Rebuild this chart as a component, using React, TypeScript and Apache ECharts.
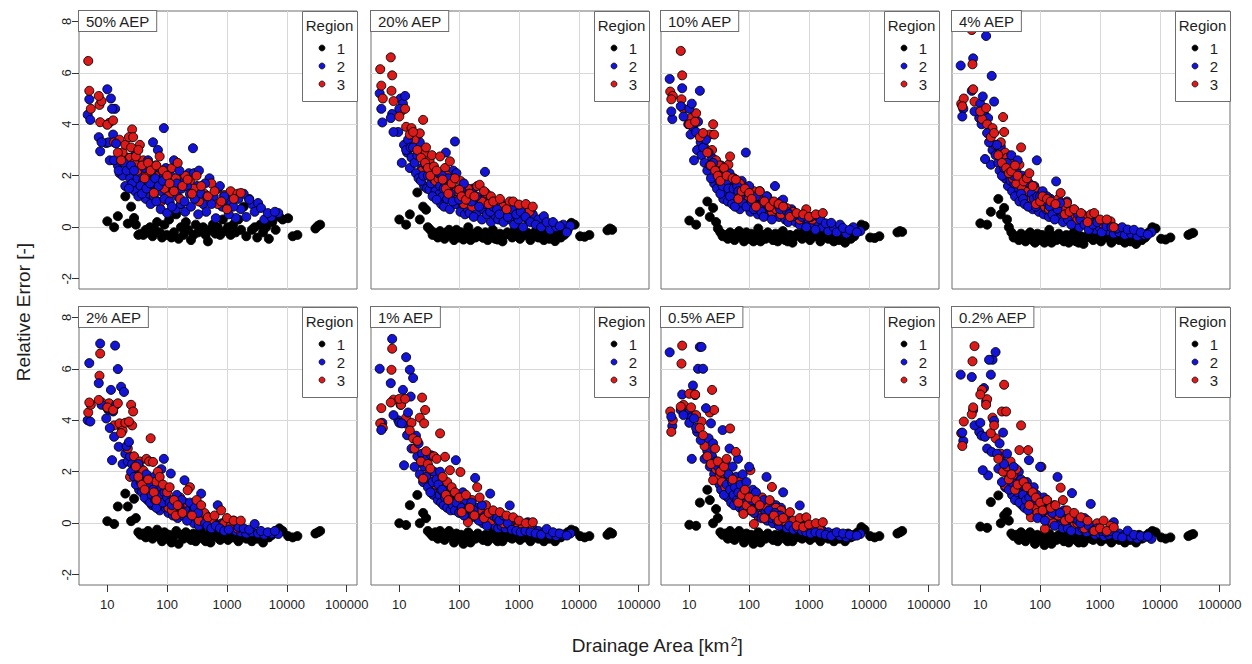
import { useEffect, useRef } from "react";
import * as echarts from "echarts";

const PANEL_TITLES = ["50% AEP", "20% AEP", "10% AEP", "4% AEP", "2% AEP", "1% AEP", "0.5% AEP", "0.2% AEP"];
const REGION_NAMES = ["1", "2", "3"];
const REGION_COLORS = ["#000000", "#1414d8", "#dc1a1a"];
const X_TICKS = [10, 100, 1000, 10000, 100000];
const Y_TICKS = [-2, 0, 2, 4, 6, 8];
const X_TITLE = "Drainage Area [km{s|2}]";
const Y_TITLE = "Relative Error [-]";

// Drainage areas [km2] of the gauges of each region (same in every panel)
const AREA_R1 = [10,13,15,20,22,25,28,30,33,36,40,44,48,52,57,62,68,75,82,90,98,108,118,130,142,155,170,188,205,225,250,275,300,330,365,400,440,480,530,580,640,700,770,850,940,1040,1150,1270,1400,1550,1720,1900,2100,2350,2600,2900,3200,3600,4000,4500,5000,5700,6500,7500,8500,10500,12500,15000,30000,33000,36000];
const AREA_R2 = [4.7,5,5.2,7.2,7.6,8,9.6,10,10.5,11,11.5,12,12.5,13,13.5,14,15,15.5,16,17,18,19,20,21,22,23,24,25,26,28,29,30,32,33,34,36,37,38,40,42,44,45,47,48,50,52,53,55,56,58,60,63,65,66,70,72,75,78,80,85,88,90,95,100,105,110,115,120,125,130,140,145,150,160,170,175,185,195,200,215,230,240,250,270,280,290,315,330,340,370,400,430,450,470,510,550,600,650,700,760,830,900,980,1070,1170,1280,1400,1550,1700,1900,2100,2350,2600,2900,3300,3700,4200,4800,5500,6300,7200];
const AREA_R3 = [4.8,5,5.3,7.2,7.4,7.6,8,10,10.7,12.5,13,15,16,17,18,20,22,23,24,25,26,27,28,30,32,33,35,38,40,42,45,48,50,53,58,60,63,66,70,75,80,85,90,100,105,110,120,130,140,150,165,180,200,220,240,260,280,310,340,370,420,480,550,620,700,800,900,1000,1150,1300,1500,1700];

// Relative error, region 1 (black)
const ERR_R1_P50 = [0.23,0.0,0.43,1.2,0.14,0.8,0.36,0.1,-0.3,-0.25,-0.3,-0.1,-0.2,0.0,-0.35,-0.1,0.2,-0.2,-0.4,0.1,-0.3,0.3,-0.4,-0.2,0.5,-0.45,0.0,-0.3,0.2,-0.1,-0.5,-0.3,0.1,-0.2,-0.1,0.0,-0.3,-0.55,-0.1,0.1,-0.25,0.0,-0.3,0.3,-0.15,0.0,-0.3,0.1,-0.2,0.3,-0.1,0.8,-0.35,1.1,-0.1,0.0,-0.4,0.1,-0.2,0.0,-0.45,0.2,-0.1,0.4,0.3,0.35,-0.35,-0.3,-0.05,0.05,0.1];
const ERR_R1_P20 = [0.3,0.1,0.5,1.35,0.3,0.8,0.68,0.0,-0.1,-0.3,-0.22,-0.4,-0.15,-0.3,-0.45,-0.2,-0.1,-0.35,-0.5,-0.1,-0.4,-0.2,-0.48,-0.3,0.0,-0.5,-0.25,-0.4,-0.15,-0.35,-0.41,-0.2,-0.5,-0.3,-0.1,-0.45,-0.48,-0.25,-0.55,-0.3,-0.2,-0.28,-0.4,-0.1,-0.35,-0.45,-0.2,-0.3,-0.22,-0.5,-0.35,-0.15,-0.4,-0.3,-0.5,-0.25,-0.45,-0.35,-0.54,-0.2,-0.4,-0.3,-0.1,0.17,0.1,-0.35,-0.37,-0.3,-0.12,-0.05,-0.1];
const ERR_R1_P10 = [0.26,0.1,0.6,1.0,0.4,0.75,0.2,-0.05,-0.2,-0.35,-0.3,-0.45,-0.2,-0.35,-0.5,-0.25,-0.15,-0.4,-0.55,-0.2,-0.45,-0.25,-0.55,-0.35,-0.05,-0.55,-0.3,-0.45,-0.2,-0.4,-0.5,-0.25,-0.55,-0.35,-0.15,-0.5,-0.55,-0.3,-0.6,-0.35,-0.25,-0.35,-0.45,-0.15,-0.4,-0.5,-0.25,-0.35,-0.3,-0.55,-0.4,-0.2,-0.45,-0.35,-0.55,-0.3,-0.5,-0.4,-0.6,-0.25,-0.45,-0.35,-0.15,0.1,0.05,-0.4,-0.42,-0.35,-0.2,-0.15,-0.18];
const ERR_R1_P4 = [0.15,0.1,0.6,1.1,0.5,0.75,0.3,0.0,-0.2,-0.4,-0.35,-0.5,-0.25,-0.45,-0.55,-0.3,-0.2,-0.5,-0.6,-0.25,-0.5,-0.3,-0.6,-0.4,-0.1,-0.6,-0.35,-0.5,-0.25,-0.45,-0.55,-0.3,-0.6,-0.4,-0.2,-0.55,-0.6,-0.35,-0.65,-0.4,-0.3,-0.4,-0.5,-0.2,-0.45,-0.55,-0.3,-0.4,-0.35,-0.6,-0.45,-0.25,-0.5,-0.4,-0.6,-0.35,-0.55,-0.45,-0.65,-0.3,-0.5,-0.4,-0.2,0.0,-0.05,-0.45,-0.48,-0.4,-0.3,-0.25,-0.22];
const ERR_R1_P2 = [0.08,-0.03,0.65,1.15,0.65,0.08,0.95,0.2,-0.35,-0.45,-0.4,-0.55,-0.3,-0.5,-0.6,-0.4,-0.25,-0.55,-0.7,-0.35,-0.6,-0.45,-0.75,-0.5,-0.3,-0.8,-0.45,-0.6,-0.35,-0.5,-0.65,-0.4,-0.7,-0.5,-0.3,-0.6,-0.7,-0.45,-0.75,-0.5,-0.4,-0.55,-0.65,-0.35,-0.5,-0.65,-0.4,-0.55,-0.45,-0.7,-0.55,-0.35,-0.6,-0.5,-0.7,-0.45,-0.6,-0.5,-0.75,-0.4,-0.55,-0.45,-0.3,-0.2,-0.3,-0.5,-0.55,-0.5,-0.4,-0.35,-0.3];
const ERR_R1_P1 = [0.0,-0.07,0.7,1.1,0.0,0.4,0.2,-0.3,-0.4,-0.5,-0.35,-0.6,-0.3,-0.5,-0.65,-0.4,-0.3,-0.55,-0.75,-0.4,-0.6,-0.45,-0.8,-0.5,-0.35,-0.75,-0.5,-0.6,-0.4,-0.55,-0.65,-0.45,-0.7,-0.5,-0.35,-0.6,-0.7,-0.45,-0.7,-0.55,-0.4,-0.55,-0.6,-0.35,-0.5,-0.65,-0.45,-0.55,-0.45,-0.7,-0.55,-0.4,-0.6,-0.5,-0.7,-0.45,-0.6,-0.5,-0.7,-0.4,-0.55,-0.45,-0.35,-0.25,-0.3,-0.5,-0.55,-0.5,-0.45,-0.35,-0.4];
const ERR_R1_P05 = [-0.06,-0.1,0.8,1.3,0.9,0.0,0.55,0.2,-0.35,-0.45,-0.4,-0.6,-0.3,-0.55,-0.65,-0.4,-0.3,-0.55,-0.75,-0.4,-0.6,-0.45,-0.8,-0.5,-0.35,-0.75,-0.5,-0.6,-0.4,-0.55,-0.65,-0.45,-0.7,-0.5,-0.35,-0.6,-0.7,-0.45,-0.7,-0.55,-0.4,-0.55,-0.6,-0.35,-0.5,-0.65,-0.45,-0.55,-0.45,-0.7,-0.55,-0.4,-0.6,-0.5,-0.7,-0.45,-0.6,-0.5,-0.7,-0.4,-0.55,-0.45,-0.35,-0.15,-0.25,-0.5,-0.55,-0.5,-0.4,-0.35,-0.3];
const ERR_R1_P02 = [-0.13,-0.18,0.82,1.08,0.0,0.3,0.43,0.1,-0.4,-0.5,-0.45,-0.65,-0.35,-0.6,-0.7,-0.45,-0.35,-0.6,-0.8,-0.45,-0.65,-0.5,-0.85,-0.55,-0.4,-0.8,-0.55,-0.65,-0.45,-0.6,-0.7,-0.5,-0.75,-0.55,-0.4,-0.65,-0.75,-0.5,-0.75,-0.6,-0.45,-0.6,-0.65,-0.4,-0.55,-0.7,-0.5,-0.6,-0.5,-0.75,-0.6,-0.45,-0.65,-0.55,-0.75,-0.5,-0.65,-0.55,-0.75,-0.45,-0.6,-0.5,-0.4,-0.3,-0.35,-0.55,-0.6,-0.55,-0.5,-0.45,-0.42];

// Relative error, region 2 (blue)
const ERR_R2_P50 = [4.37,4.97,4.17,3.5,2.95,3.3,3.27,5.36,3.3,2.6,5.0,4.6,3.6,2.6,4.6,3.25,2.4,2.2,2.1,2.6,2.0,2.5,1.6,2.2,2.7,1.5,1.9,2.4,1.7,2.2,1.4,2.9,1.9,1.2,2.5,1.6,2.1,1.3,1.8,2.3,1.1,1.5,2.0,2.6,1.3,1.7,0.9,2.2,1.5,3.3,1.2,1.9,2.4,1.0,3.0,1.6,2.1,0.7,1.4,1.8,3.85,1.1,2.3,0.55,1.6,1.0,2.0,0.8,1.4,2.6,0.7,1.7,1.2,2.2,0.9,1.5,1.9,1.0,0.6,1.6,2.1,1.3,0.8,3.07,2.1,1.1,1.6,0.5,2.2,1.3,0.9,1.7,0.6,1.2,1.9,0.9,1.2,0.35,1.5,1.6,0.8,1.2,1.07,0.5,0.9,0.8,0.36,1.1,0.7,1.3,0.4,1.07,0.9,0.6,0.94,0.75,0.3,0.55,0.4,0.6,0.55];
const ERR_R2_P20 = [5.2,4.6,4.07,4.24,4.4,3.7,3.7,4.6,5.0,2.5,4.8,3.2,5.1,3.0,2.9,3.4,2.3,3.1,2.7,3.1,2.5,2.1,2.8,1.9,3.3,1.8,2.3,2.0,1.6,2.4,1.5,2.0,1.46,2.2,1.7,1.2,1.9,2.3,1.4,1.07,1.8,2.1,1.3,1.6,0.9,2.0,1.2,1.5,0.8,1.7,2.9,1.1,1.4,1.9,0.7,1.3,1.6,1.0,2.2,3.33,0.9,2.1,1.2,1.07,0.6,1.4,0.9,1.7,0.5,1.1,0.7,1.3,0.55,1.0,1.5,0.4,0.9,1.2,0.6,0.8,1.1,0.3,0.7,2.15,0.9,0.5,1.0,0.6,0.2,0.8,0.45,0.7,0.3,0.5,0.9,0.2,0.6,0.4,0.3,0.7,0.1,0.5,0.3,0.6,0.0,0.4,0.3,0.2,0.5,0.1,0.3,0.0,0.43,0.2,-0.1,0.2,0.0,0.04,0.1,-0.2,0.05];
const ERR_R2_P10 = [5.76,4.5,4.2,4.7,5.4,4.3,4.0,4.6,3.6,4.8,3.9,2.6,4.4,3.7,3.0,4.1,5.3,3.3,2.8,3.1,2.5,3.4,2.2,2.9,2.4,1.9,2.7,2.5,1.7,2.2,1.5,2.0,1.8,1.3,2.4,1.6,1.1,2.0,1.4,1.8,1.0,1.5,2.1,1.2,1.7,0.9,1.2,1.5,1.9,0.8,1.3,1.6,1.0,1.4,0.7,1.2,1.8,0.94,1.1,1.4,2.9,0.8,1.2,1.6,0.6,1.0,1.3,0.7,0.9,1.2,0.5,0.8,1.4,0.6,1.07,0.4,0.9,1.2,0.5,0.8,1.0,0.3,0.7,1.6,0.5,0.9,0.4,0.7,1.0,1.07,0.3,0.6,0.2,0.5,0.7,0.43,0.2,0.5,0.1,0.4,0.3,0.0,0.23,0.4,0.1,-0.1,0.2,0.3,0.0,0.15,-0.15,0.17,0.0,-0.2,0.1,-0.03,-0.25,-0.1,0.0,-0.2,-0.15];
const ERR_R2_P4 = [6.28,4.3,4.6,5.3,6.56,4.5,4.24,4.8,4.0,5.08,4.4,2.65,7.43,3.66,4.24,3.3,2.43,5.88,3.0,4.88,2.8,3.2,2.5,2.2,3.14,2.0,2.6,2.3,1.9,2.5,1.6,2.1,1.8,2.8,1.4,2.0,1.7,1.2,2.2,2.6,1.5,1.0,1.8,1.3,2.0,1.1,1.6,0.9,1.4,1.9,1.2,0.8,1.5,1.7,1.0,1.3,0.7,1.1,1.6,0.8,2.6,1.2,0.6,1.2,0.9,1.4,0.5,1.0,0.7,1.2,0.4,0.8,1.1,0.5,0.9,0.3,1.78,0.7,0.4,0.94,0.6,0.2,0.8,0.5,1.0,0.3,0.6,0.1,0.4,0.68,0.2,0.5,0.0,0.3,0.5,0.1,0.3,-0.1,0.3,0.1,-0.1,0.2,0.0,-0.2,0.1,0.04,-0.15,0.0,-0.25,-0.05,-0.2,0.0,-0.3,-0.09,-0.25,-0.1,-0.35,-0.2,-0.3,-0.28,-0.2];
const ERR_R2_P2 = [4.0,6.22,3.95,5.44,6.98,4.6,4.07,4.47,4.4,3.7,5.18,2.45,4.34,3.36,6.9,4.6,5.99,2.97,3.8,5.3,2.3,5.1,2.7,3.0,2.4,3.16,2.6,2.0,2.3,1.8,2.19,1.5,1.9,2.3,1.3,1.6,2.1,1.2,1.7,1.0,1.4,1.9,0.9,1.5,1.2,0.8,1.6,1.1,0.7,1.3,1.8,0.9,1.2,0.6,1.4,1.0,0.5,1.1,2.1,0.8,2.5,1.2,0.6,1.0,0.4,0.8,1.93,0.7,0.3,0.9,0.5,1.1,0.2,0.7,0.4,0.9,0.3,1.67,0.6,0.1,0.5,0.8,0.2,0.4,0.0,0.6,0.2,0.4,-0.1,1.15,0.2,0.0,0.3,-0.1,0.2,-0.2,0.1,-0.1,0.7,-0.2,0.0,-0.3,-0.1,-0.25,0.0,0.1,-0.3,-0.15,-0.35,-0.2,-0.4,-0.25,-0.35,-0.03,-0.4,-0.3,-0.45,-0.35,-0.4,-0.3,-0.42];
const ERR_R2_P1 = [6.0,3.62,3.9,5.44,7.16,4.2,4.0,3.9,4.6,3.88,5.18,2.25,3.88,6.45,3.42,4.3,5.96,4.92,2.9,5.64,2.19,3.4,2.6,3.1,1.9,2.4,2.7,1.6,2.2,1.8,2.5,1.4,1.9,1.2,2.64,1.6,1.1,2.0,1.3,1.7,0.9,1.5,1.1,2.0,0.8,1.3,1.6,0.7,1.2,1.0,1.5,0.6,1.1,0.9,1.4,0.5,1.0,0.7,1.2,0.5,2.45,0.8,1.1,0.4,0.9,0.6,1.2,0.3,0.7,0.9,0.4,0.6,0.2,0.8,0.3,0.5,1.76,0.2,0.6,0.1,0.4,0.7,0.0,0.3,0.5,-0.1,0.2,1.15,0.0,0.3,-0.1,0.2,-0.2,0.1,-0.1,0.3,-0.2,0.0,0.69,-0.25,-0.05,-0.3,-0.1,-0.35,-0.15,-0.3,0.04,-0.35,-0.2,-0.4,-0.3,-0.45,-0.35,-0.22,-0.45,-0.35,-0.5,-0.4,-0.45,-0.48,-0.4];
const ERR_R2_P05 = [6.64,4.14,3.78,4.4,5.0,4.2,4.27,3.9,4.1,2.5,5.35,4.07,4.98,3.7,3.55,6.0,6.85,3.23,6.85,6.0,2.5,4.47,2.8,3.3,2.2,3.88,2.6,3.1,1.9,2.4,1.7,2.2,1.5,2.0,1.3,3.62,1.8,1.1,2.3,1.5,1.0,1.9,2.9,1.3,0.8,1.6,2.2,1.1,0.7,1.4,1.8,0.9,2.5,1.2,0.6,1.5,1.0,1.9,0.5,1.3,0.8,1.6,1.1,2.19,0.5,0.9,1.3,0.4,0.8,1.2,0.3,0.7,1.0,0.2,0.6,0.9,0.4,1.8,0.1,0.5,0.8,0.2,0.0,0.4,0.7,0.1,-0.1,0.3,0.6,1.2,0.0,-0.2,0.2,-0.1,0.1,-0.25,0.0,-0.2,0.69,-0.3,-0.1,-0.35,-0.2,-0.4,-0.25,-0.35,-0.09,-0.4,-0.3,-0.45,-0.35,-0.5,-0.4,-0.35,-0.5,-0.4,-0.55,-0.45,-0.5,-0.48,-0.42];
const ERR_R2_P02 = [5.77,3.52,3.2,5.68,4.4,3.8,3.55,3.9,3.4,2.06,5.25,3.36,4.73,2.9,1.86,6.35,5.77,2.77,6.35,3.98,6.65,2.7,2.12,3.1,2.5,1.6,3.52,2.3,1.4,2.7,1.9,1.3,2.2,1.6,1.1,2.19,1.5,0.9,1.8,1.2,2.0,0.8,1.4,1.7,0.7,1.1,1.5,0.6,1.3,0.9,1.6,0.5,2.45,1.0,0.4,1.2,0.8,1.4,0.3,0.9,1.1,0.2,0.7,2.19,0.4,0.8,1.0,0.1,0.5,0.9,0.2,0.6,0.0,0.4,0.7,-0.1,0.3,1.8,0.0,0.4,0.2,-0.2,0.5,0.0,0.3,-0.2,0.1,-0.3,1.17,0.2,-0.1,0.1,-0.3,0.0,-0.2,0.2,-0.35,-0.1,0.75,-0.3,-0.45,-0.2,-0.4,-0.3,-0.5,-0.35,-0.45,-0.3,0.04,-0.5,-0.4,-0.55,-0.45,-0.29,-0.55,-0.45,-0.6,-0.5,-0.55,-0.5,-0.61];

// Relative error, region 3 (red)
const ERR_R3_P50 = [6.46,5.3,4.6,5.1,4.75,4.08,4.9,3.98,4.05,4.15,3.3,2.9,3.4,2.6,2.9,3.2,2.3,3.5,2.7,3.1,3.8,3.5,2.5,2.75,2.2,3.0,3.2,2.4,2.6,1.9,2.1,2.5,1.7,2.2,1.8,1.33,2.0,2.4,1.6,2.75,1.0,2.2,1.5,2.0,1.2,1.7,2.3,1.4,1.9,2.5,1.1,1.6,2.0,1.85,1.8,1.3,1.5,2.0,1.0,1.6,1.3,1.2,1.7,1.4,0.9,1.0,1.25,0.7,1.4,1.1,1.3,1.33];
const ERR_R3_P20 = [6.14,5.5,5.0,6.6,5.3,5.9,4.9,4.3,4.5,4.6,3.9,3.6,3.85,3.7,3.4,3.0,3.65,2.7,2.2,4.17,2.9,2.5,3.1,2.3,2.6,2.0,2.8,2.36,1.8,2.2,1.9,2.75,1.6,1.85,2.3,1.5,2.0,1.3,2.56,1.7,1.1,1.9,1.4,1.46,1.8,1.2,0.9,1.07,1.5,1.3,0.8,1.2,1.6,1.65,1.0,1.4,1.33,0.9,1.2,1.0,0.94,1.1,0.8,0.7,1.0,1.0,0.6,0.88,0.7,0.9,0.6,0.8];
const ERR_R3_P10 = [5.27,4.97,5.1,6.85,4.97,5.9,4.6,4.0,4.24,4.1,4.43,3.5,3.3,3.66,3.1,2.9,3.6,2.4,3.0,4.0,3.6,2.2,2.6,2.0,2.4,1.8,2.1,2.3,1.7,2.0,2.43,2.75,1.5,1.9,1.3,1.85,1.6,1.1,1.7,1.4,1.0,1.5,1.2,1.33,0.9,1.1,1.4,0.8,1.2,1.4,0.7,1.0,1.2,0.8,0.6,1.0,0.7,0.9,0.5,0.8,0.75,0.4,0.6,0.55,0.3,0.5,0.7,0.4,0.3,0.5,0.35,0.55];
const ERR_R3_P4 = [4.8,4.7,5.0,7.66,6.33,5.36,4.88,4.5,4.2,4.63,4.0,3.5,3.85,3.66,3.2,2.8,3.3,2.5,4.28,3.7,2.9,2.3,2.7,2.1,2.5,2.17,1.9,2.4,1.7,2.0,2.43,3.1,1.5,1.78,1.3,1.9,1.4,2.1,1.1,1.6,1.3,0.9,1.4,1.0,1.3,1.2,0.8,1.1,0.7,1.0,0.6,0.9,1.1,1.33,0.7,0.5,0.94,0.6,0.4,0.7,0.3,0.55,0.4,0.2,0.5,0.55,0.2,0.3,0.1,0.3,0.23,0.0];
const ERR_R3_P2 = [4.3,4.69,4.6,4.79,5.73,6.59,4.7,4.5,4.66,4.4,3.8,4.66,3.88,3.5,3.6,3.9,2.9,3.95,1.8,4.6,3.8,4.34,2.6,2.2,1.6,1.8,2.4,1.5,2.05,1.3,2.5,1.7,2.4,3.3,2.38,1.2,1.6,0.9,2.0,1.8,1.1,1.5,0.8,1.2,0.6,1.4,0.5,0.9,0.3,0.7,1.0,0.4,0.8,1.28,1.4,0.3,0.6,0.9,0.1,0.7,0.4,0.23,0.1,0.3,-0.1,0.5,0.0,0.2,-0.1,0.1,-0.2,0.1];
const ERR_R3_P1 = [3.88,4.47,3.7,4.69,5.96,6.78,4.8,4.83,4.6,4.83,4.1,3.6,3.9,3.3,2.9,3.2,4.1,2.4,4.88,1.73,3.88,4.4,2.8,2.3,2.0,2.12,1.7,2.6,1.5,2.5,1.9,3.49,1.3,1.8,2.58,1.1,1.6,0.9,2.06,1.4,0.8,1.2,0.6,1.0,1.99,0.43,0.8,1.1,0.04,0.6,0.9,0.3,1.4,1.0,0.5,0.2,0.7,0.4,0.1,0.5,0.2,0.43,0.0,0.3,-0.1,0.23,-0.2,0.1,-0.15,0.0,-0.25,0.04];
const ERR_R3_P05 = [4.34,3.55,4.0,4.53,6.2,6.9,4.6,5.03,4.5,5.0,4.2,3.7,3.95,3.42,3.0,2.6,4.3,2.3,5.18,1.67,4.4,2.9,2.1,2.4,1.8,2.0,1.6,2.2,1.4,2.5,1.9,3.68,1.2,1.7,1.0,2.77,1.4,0.8,1.6,1.1,0.36,1.3,0.7,1.0,2.06,0.5,-0.03,0.9,0.3,0.7,1.0,0.2,0.6,0.9,1.41,0.3,0.6,0.1,0.5,0.2,0.0,0.43,0.1,-0.1,0.2,-0.15,0.23,-0.05,-0.2,0.0,-0.25,0.04];
const ERR_R3_P02 = [3.5,3.0,3.95,4.23,6.29,4.5,6.88,5.0,5.18,4.6,4.82,3.5,4.1,3.8,3.3,2.5,2.7,4.34,2.0,5.38,1.47,4.34,2.2,1.7,2.4,1.9,1.86,1.3,2.1,1.5,2.84,3.8,1.1,1.6,0.9,1.4,2.84,0.7,0.23,1.2,0.6,1.0,0.4,0.8,2.19,0.5,-0.22,0.9,0.2,0.6,0.0,0.7,0.3,1.38,0.9,0.1,0.5,0.2,-0.1,0.4,0.0,0.23,-0.2,0.1,-0.1,-0.3,0.0,-0.2,0.1,-0.3,-0.1,-0.16];

const ERR_R1 = [ERR_R1_P50, ERR_R1_P20, ERR_R1_P10, ERR_R1_P4, ERR_R1_P2, ERR_R1_P1, ERR_R1_P05, ERR_R1_P02];
const ERR_R2 = [ERR_R2_P50, ERR_R2_P20, ERR_R2_P10, ERR_R2_P4, ERR_R2_P2, ERR_R2_P1, ERR_R2_P05, ERR_R2_P02];
const ERR_R3 = [ERR_R3_P50, ERR_R3_P20, ERR_R3_P10, ERR_R3_P4, ERR_R3_P2, ERR_R3_P1, ERR_R3_P05, ERR_R3_P02];

const FONT = "'Liberation Sans', Arial, Helvetica, sans-serif";
const COL_LEFT = [79, 371, 661, 952];
const ROW_TOP = [11, 307];
const PANEL_W = 278;
const PANEL_H = 278;
const BOX_COLOR = "#6e6e6e";
const GRID_COLOR = "#d8d8d8";
const TEXT_COLOR = "#1e1e1e";

// pairs (x, y), optionally keeping only every second point (parity) so that
// the blue and red clouds can be painted interleaved, as in the original plot
function zip(xs: number[], ys: number[], parity = -1) {
  const n = Math.min(xs.length, ys.length);
  const out: number[][] = [];
  for (let i = 0; i < n; i++) {
    if (parity >= 0 && i % 2 !== parity) continue;
    out.push([xs[i], ys[i]]);
  }
  return out;
}

function buildOption() {
  const grid: any[] = [];
  const xAxis: any[] = [];
  const yAxis: any[] = [];
  const series: any[] = [];
  const graphic: any[] = [];
  const areas = [AREA_R1, AREA_R2, AREA_R3];
  const errs = [ERR_R1, ERR_R2, ERR_R3];

  PANEL_TITLES.forEach((title, p) => {
    const col = p % 4;
    const row = Math.floor(p / 4);
    const gl = COL_LEFT[col];
    const gt = ROW_TOP[row];
    const gr = gl + PANEL_W;
    grid.push({
      left: gl, top: gt, width: PANEL_W, height: PANEL_H,
      show: true, backgroundColor: "#ffffff", borderColor: BOX_COLOR, borderWidth: 1,
      containLabel: false,
    });
    const showX = row === 1;
    const showY = col === 0;
    xAxis.push({
      type: "log", logBase: 10, gridIndex: p,
      min: 3.365, max: 148594,
      axisLine: { show: false, onZero: false },
      axisTick: { show: showX, customValues: X_TICKS, length: 7, lineStyle: { color: "#333" } },
      axisLabel: {
        show: showX, customValues: X_TICKS, margin: 13, fontSize: 13, fontFamily: FONT, color: TEXT_COLOR,
        formatter: (v: number) => String(Math.round(v)),
      },
      splitLine: { show: true, showMinLine: false, showMaxLine: false, lineStyle: { color: GRID_COLOR, width: 1 } },
    });
    yAxis.push({
      type: "value", gridIndex: p, min: -2.4, max: 8.4,
      axisLine: { show: false, onZero: false },
      axisTick: { show: showY, customValues: Y_TICKS, length: 7, lineStyle: { color: "#333" } },
      axisLabel: {
        show: showY, customValues: Y_TICKS, rotate: 90, margin: 6, fontSize: 13, fontFamily: FONT, color: TEXT_COLOR,
        formatter: (v: number) => String(v),
      },
      splitLine: { show: true, showMinLine: false, showMaxLine: false, lineStyle: { color: GRID_COLOR, width: 1 } },
    });
    const mk = (r: number, parity: number) => ({
      type: "scatter", name: REGION_NAMES[r], xAxisIndex: p, yAxisIndex: p,
      data: zip(areas[r], errs[r][p], parity),
      symbol: "circle", symbolSize: 9, silent: true,
      itemStyle: { color: REGION_COLORS[r], borderColor: "#000", borderWidth: 0.9, opacity: 1 },
    });
    series.push(mk(0, -1));
    series.push(mk(1, 0));
    series.push(mk(2, 0));
    series.push(mk(1, 1));
    series.push(mk(2, 1));

    // panel title box
    graphic.push({
      type: "text", x: gl, y: gt, z: 100,
      style: {
        text: title, font: `15px ${FONT}`, fill: TEXT_COLOR,
        backgroundColor: "#ffffff", borderColor: BOX_COLOR, borderWidth: 1,
        padding: [2, 6, 2, 7], lineHeight: 16,
        align: "left", verticalAlign: "top", textAlign: "left", textVerticalAlign: "top",
      },
    });
    // legend box
    graphic.push({
      type: "rect", z: 100,
      shape: { x: gr - 55 + 0.5, y: gt + 0.5, width: 55, height: 90 },
      style: { fill: "#ffffff", stroke: BOX_COLOR, lineWidth: 1 },
    });
    graphic.push({
      type: "text", x: gr - 27.5, y: gt + 14, z: 101,
      style: { text: "Region", font: `15px ${FONT}`, fill: TEXT_COLOR, align: "center", verticalAlign: "middle", textAlign: "center", textVerticalAlign: "middle" },
    });
    for (let r = 0; r < 3; r++) {
      const cy = gt + 37 + 18 * r;
      graphic.push({
        type: "circle", z: 101,
        shape: { cx: gr - 35, cy, r: 3 },
        style: { fill: REGION_COLORS[r], stroke: "#000", lineWidth: 0.7 },
      });
      graphic.push({
        type: "text", x: gr - 16, y: cy, z: 101,
        style: { text: REGION_NAMES[r], font: `15px ${FONT}`, fill: TEXT_COLOR, align: "center", verticalAlign: "middle", textAlign: "center", textVerticalAlign: "middle" },
      });
    }
  });

  graphic.push({
    type: "text", x: 23, y: 312, rotation: Math.PI / 2, z: 101,
    style: { text: Y_TITLE, font: `19px ${FONT}`, fill: TEXT_COLOR, align: "center", verticalAlign: "middle", textAlign: "center", textVerticalAlign: "middle" },
  });
  graphic.push({
    type: "text", x: 657, y: 645, z: 101,
    style: {
      text: X_TITLE, font: `19px ${FONT}`, fill: TEXT_COLOR, align: "center", verticalAlign: "middle", textAlign: "center", textVerticalAlign: "middle",
      rich: { s: { fontSize: 12, fontFamily: FONT, fill: TEXT_COLOR, verticalAlign: "top", padding: [0, 0, 0, 1] } },
    },
  });

  return {
    animation: false,
    backgroundColor: "#ffffff",
    textStyle: { fontFamily: FONT },
    grid, xAxis, yAxis, series, graphic,
  };
}

export default function App() {
  const ref = useRef<HTMLDivElement>(null);
  useEffect(() => {
    if (!ref.current) return;
    const chart = echarts.init(ref.current, undefined, { renderer: "svg" });
    chart.setOption(buildOption() as any);
    return () => chart.dispose();
  }, []);
  return <div ref={ref} style={{ position: "absolute", left: 0, top: 0, width: 1252, height: 664 }} />;
}
